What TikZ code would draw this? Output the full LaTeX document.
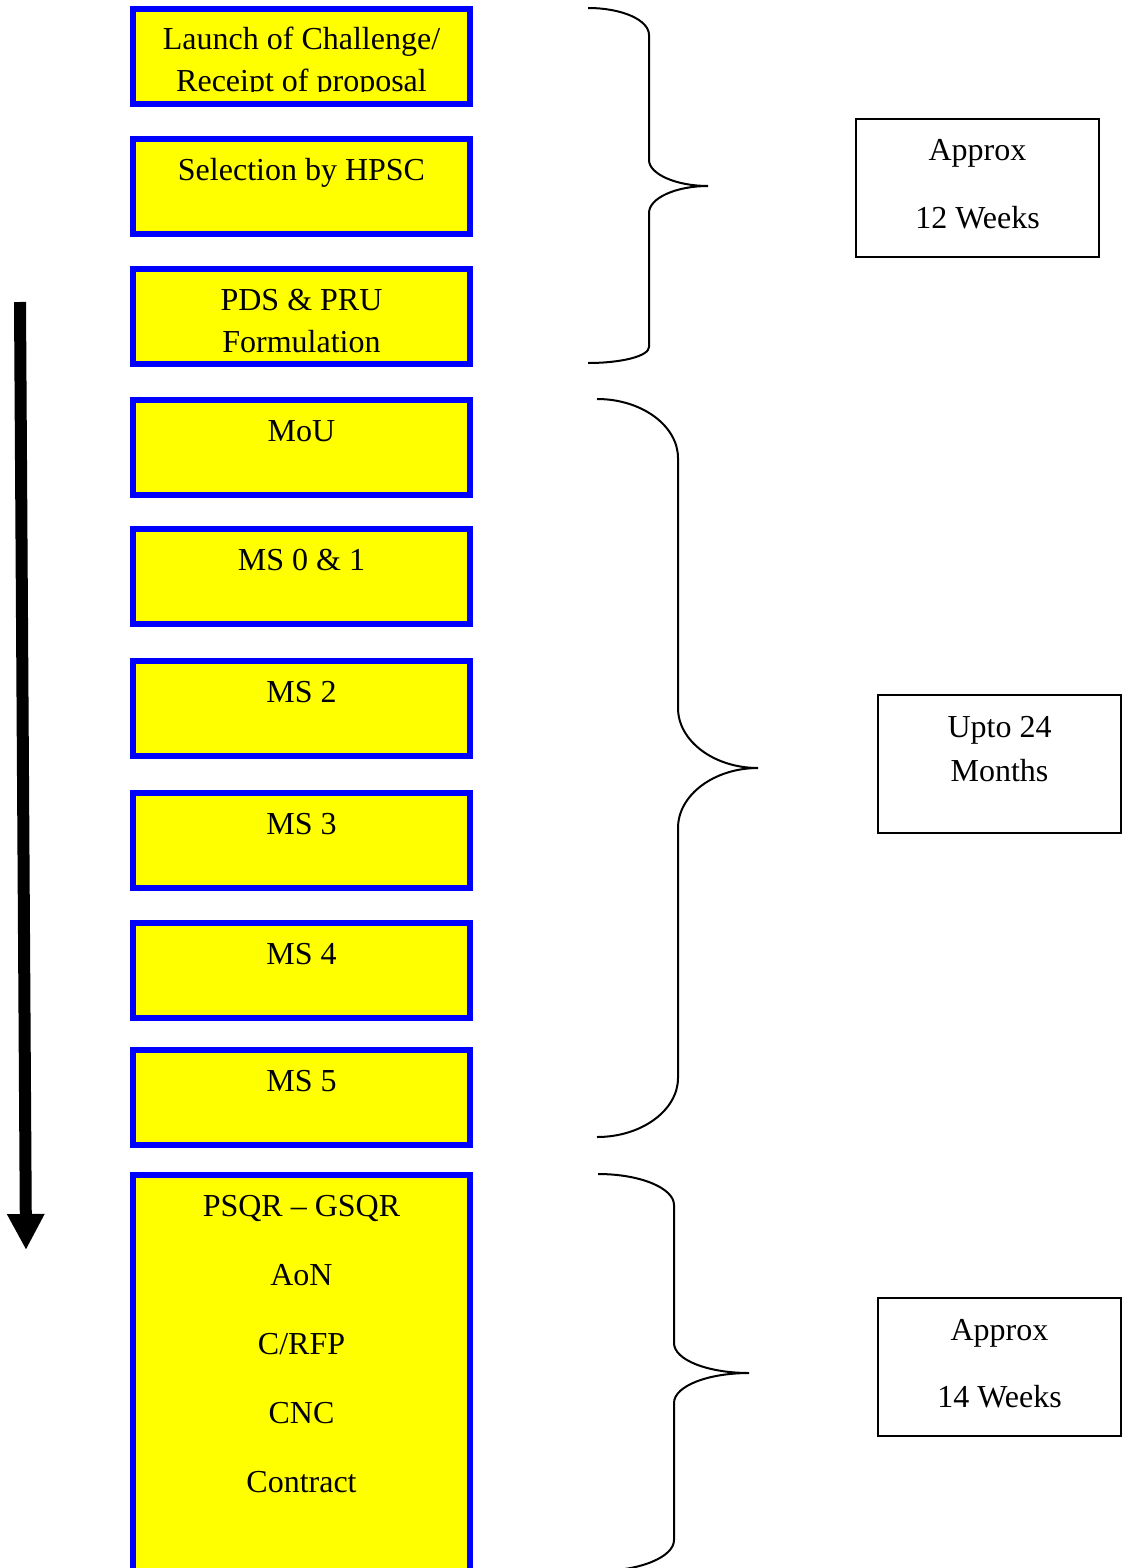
\documentclass[tikz,border=0pt]{standalone}
\usepackage{fontspec}
\setmainfont{Liberation Serif}
\usepackage{tikz}
\usetikzlibrary{arrows.meta}

\definecolor{stageyellow}{RGB}{255,255,0}
\definecolor{stageblue}{RGB}{0,0,255}

% lines stacked from the first baseline down
\newcommand{\toplines}[1]{\begin{tabular}[t]{@{}c@{}}#1\end{tabular}}

\tikzset{
    words/.style={inner sep=0pt, anchor=base, font=\fontsize{16}{21}\selectfont},
    stage/.style={draw=stageblue, line width=3pt, fill=stageyellow, minimum width=168.5pt,
        minimum height=47.5pt, inner sep=0pt, outer sep=0pt, anchor=north},
    stagetext/.style={path picture={
        \clip ([yshift=6pt]path picture bounding box.south west) rectangle (path picture bounding box.north east);
        \node[words] at ([yshift=-20.5pt]path picture bounding box.north) {\toplines{#1}};}},
    span/.style={draw=black, line width=1pt, minimum width=121.5pt, minimum height=69pt,
        inner sep=0pt, outer sep=0pt, anchor=north west},
    spantext/.style={path picture={
        \node[words] at ([yshift=-21pt]path picture bounding box.north) {\toplines{#1}};}},
    brace/.style={draw=black, line width=1pt},
}

\begin{document}
\begin{tikzpicture}[x=0.5pt, y=-0.5pt]
    \useasboundingbox (0,0) rectangle (1125,1568);
    % stages
    \node[stage, stagetext={Launch of Challenge/\\Receipt of proposal}] (launch) at (301.5,9) {};
    \node[stage, stagetext={Selection by HPSC}] (hpsc) at (301.5,139) {};
    \node[stage, stagetext={PDS \& PRU\\Formulation}] (pds) at (301.5,269) {};
    \node[stage, stagetext={MoU}] (mou) at (301.5,400) {};
    \node[stage, stagetext={MS 0 \& 1}] (ms1) at (301.5,529) {};
    \node[stage, stagetext={MS 2}] (ms2) at (301.5,661) {};
    \node[stage, stagetext={MS 3}] (ms3) at (301.5,793) {};
    \node[stage, stagetext={MS 4}] (ms4) at (301.5,923) {};
    \node[stage, stagetext={MS 5}] (ms5) at (301.5,1050) {};
    \node[stage, minimum height=215pt, words/.append style={font=\fontsize{16}{34.5}\selectfont},
        stagetext={PSQR -- GSQR\\AoN\\C/RFP\\CNC\\Contract}] (contract) at (301.5,1175) {};
    % time arrow
    \coordinate (flowtop) at (20,302);
    \coordinate (flowend) at (26,1250);
    \draw[line width=6pt, -{Triangle[width=17.5pt, length=18pt]}] (flowtop) -- (flowend);
    % braces
    \draw[brace] (588,8) .. controls (622,8) and (649,20) .. (649,35) -- (649,160)
        .. controls (649,174) and (676,186) .. (708,186)
        .. controls (676,186) and (649,198) .. (649,213) -- (649,347)
        .. controls (649,356) and (622,363) .. (588,363);
    \draw[brace] (597,399) .. controls (642,399) and (678,426) .. (678,458) -- (678,708)
        .. controls (678,741) and (714,768) .. (758,768)
        .. controls (714,768) and (678,795) .. (678,828) -- (678,1078)
        .. controls (678,1110) and (642,1137) .. (597,1137);
    \draw[brace] (598,1174) .. controls (640,1174) and (674,1188) .. (674,1205) -- (674,1343)
        .. controls (674,1360) and (708,1373) .. (749,1373)
        .. controls (708,1373) and (674,1386) .. (674,1403) -- (674,1540)
        .. controls (674,1557) and (640,1571) .. (598,1571);
    % durations
    \node[span, words/.append style={font=\fontsize{16}{33.5}\selectfont},
        spantext={Approx\\12 Weeks}] (weeks12) at (856,119) {};
    \node[span, words/.append style={font=\fontsize{16}{22}\selectfont},
        spantext={Upto 24\\Months}] (months24) at (878,695) {};
    \node[span, words/.append style={font=\fontsize{16}{33.5}\selectfont},
        spantext={Approx\\14 Weeks}] (weeks14) at (878,1298) {};
\end{tikzpicture}
\end{document}
